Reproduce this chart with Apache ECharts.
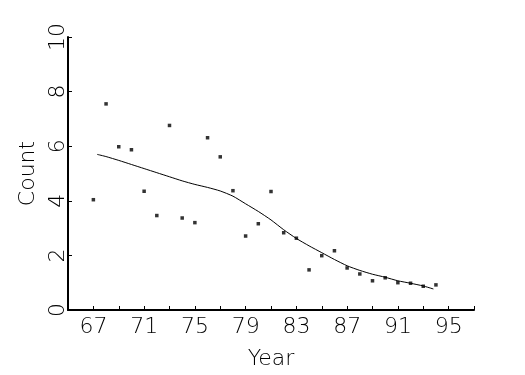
<!DOCTYPE html>
<html><head><meta charset="utf-8">
<script src="https://cdn.jsdelivr.net/npm/echarts@6/dist/echarts.min.js"></script>
<style>html,body{margin:0;padding:0;background:#fff}#c{width:525px;height:375px}</style>
</head><body><div id="c"></div>
<script>
var years = [67,68,69,70,71,72,73,74,75,76,77,78,79,80,81,82,83,84,85,86,87,88,89,90,91,92,93,94];
var counts = [4.04,7.55,5.98,5.87,4.35,3.46,6.76,3.37,3.20,6.31,5.61,4.37,2.71,3.16,4.34,2.83,2.63,1.47,1.99,2.17,1.54,1.32,1.07,1.18,1.00,0.98,0.87,0.92];
var fitYears = [67.3,68,69,70,71,72,73,74,75,76,77,78,79,80,81,82,83,84,85,86,87,88,89,90,91,92,93,93.8];
var fitValues = [5.70,5.62,5.48,5.33,5.18,5.03,4.88,4.73,4.60,4.49,4.36,4.17,3.89,3.61,3.30,2.94,2.62,2.35,2.10,1.85,1.62,1.45,1.31,1.20,1.07,0.98,0.88,0.77];
var xTicks = [67,71,75,79,83,87,91,95];
var yTicks = [0,2,4,6,8,10];

var font = '"DejaVu Sans", sans-serif';
var chart = echarts.init(document.getElementById('c'), null, {renderer:'canvas'});
chart.setOption({
  animation:false,
  backgroundColor:'#fff',
  grid:{left:68,right:51,top:37,bottom:65,containLabel:false},
  xAxis:{type:'value',min:65,max:97,interval:2,
    name:'Year',nameLocation:'middle',nameGap:38,
    nameTextStyle:{fontFamily:font,fontWeight:200,fontSize:22,color:'#000'},
    axisLine:{lineStyle:{color:'#000',width:2}},
    axisTick:{inside:true,length:4,lineStyle:{color:'#000',width:1}},
    axisLabel:{margin:6,fontFamily:font,fontWeight:200,fontSize:22,color:'#000',
      formatter:function(v){return xTicks.indexOf(v)>=0?String(v):'';}},
    splitLine:{show:false}},
  yAxis:{type:'value',min:0,max:10,interval:2,
    name:'Count',nameLocation:'middle',nameGap:27,nameRotate:90,
    nameTextStyle:{fontFamily:font,fontWeight:200,fontSize:22,color:'#000'},
    axisLine:{lineStyle:{color:'#000',width:2}},
    axisTick:{inside:true,length:4,lineStyle:{color:'#000',width:1}},
    axisLabel:{rotate:90,margin:-1,fontFamily:font,fontWeight:200,fontSize:22,color:'#000',
      formatter:function(v){return yTicks.indexOf(v)>=0?String(v):'';}},
    splitLine:{show:false}},
  series:[
    {type:'scatter',data:years.map(function(y,i){return [y,counts[i]];}),
     symbol:'rect',symbolSize:3.5,itemStyle:{color:'#000'}},
    {type:'line',data:fitYears.map(function(y,i){return [y,fitValues[i]];}),
     symbol:'none',smooth:0.2,lineStyle:{color:'#000',width:1}}
  ]
});
</script></body></html>
